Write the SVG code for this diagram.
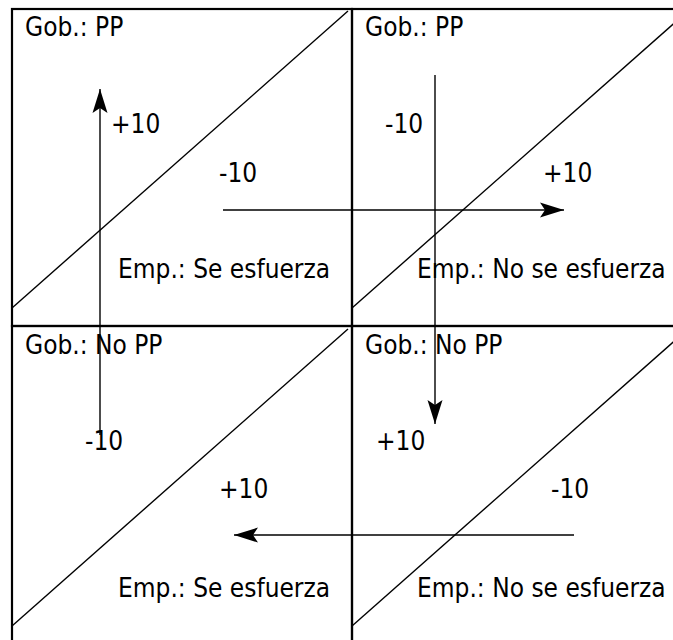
<svg xmlns="http://www.w3.org/2000/svg" width="673" height="640" viewBox="0 0 673 640">
  <style>
    .cell { fill: none; stroke: #000; stroke-width: 2.2; }
    .diag { fill: none; stroke: #000; stroke-width: 1.4; }
    .arrow { fill: none; stroke: #000; stroke-width: 1.4; marker-end: url(#head); }
    text { font-family: "DejaVu Sans Condensed", "DejaVu Sans", sans-serif; font-size: 26px; fill: #000; }
  </style>
  <defs>
    <marker id="head" markerUnits="userSpaceOnUse" viewBox="-26 -10 28 20" refX="0" refY="0" markerWidth="28" markerHeight="20" orient="auto">
      <path d="M0,0 L-24,-7.5 L-19,0 L-24,7.5 Z" fill="#000"/>
    </marker>
  </defs>
  <rect width="673" height="640" fill="#fff"/>

  <g id="cell-tl">
    <rect class="cell" x="12" y="9" width="340" height="317"/>
    <line class="diag" x1="12" y1="308" x2="348" y2="11"/>
    <text x="25" y="36">Gob.: PP</text>
    <text x="118" y="278">Emp.: Se esfuerza</text>
    <text x="111" y="133">+10</text>
    <text x="219" y="182">-10</text>
  </g>
  <g id="cell-tr">
    <rect class="cell" x="352" y="9" width="340" height="317"/>
    <line class="diag" x1="352" y1="308" x2="688" y2="11"/>
    <text x="365" y="36">Gob.: PP</text>
    <text x="417" y="278">Emp.: No se esfuerza</text>
    <text x="385" y="133">-10</text>
    <text x="543" y="182">+10</text>
  </g>
  <g id="cell-bl">
    <rect class="cell" x="12" y="326" width="340" height="317"/>
    <line class="diag" x1="12" y1="626" x2="348" y2="329"/>
    <text x="25" y="354">Gob.: No PP</text>
    <text x="118" y="597">Emp.: Se esfuerza</text>
    <text x="85" y="450">-10</text>
    <text x="219" y="498">+10</text>
  </g>
  <g id="cell-br">
    <rect class="cell" x="352" y="326" width="340" height="317"/>
    <line class="diag" x1="352" y1="626" x2="688" y2="329"/>
    <text x="365" y="354">Gob.: No PP</text>
    <text x="417" y="597">Emp.: No se esfuerza</text>
    <text x="376" y="450">+10</text>
    <text x="551" y="498">-10</text>
  </g>

  <g id="connectors">
    <line class="arrow" x1="100" y1="435" x2="100" y2="89"/>
    <line class="arrow" x1="223" y1="210" x2="564" y2="210"/>
    <line class="arrow" x1="435" y1="75" x2="435" y2="424"/>
    <line class="arrow" x1="574" y1="535" x2="234" y2="535"/>
  </g>
</svg>
